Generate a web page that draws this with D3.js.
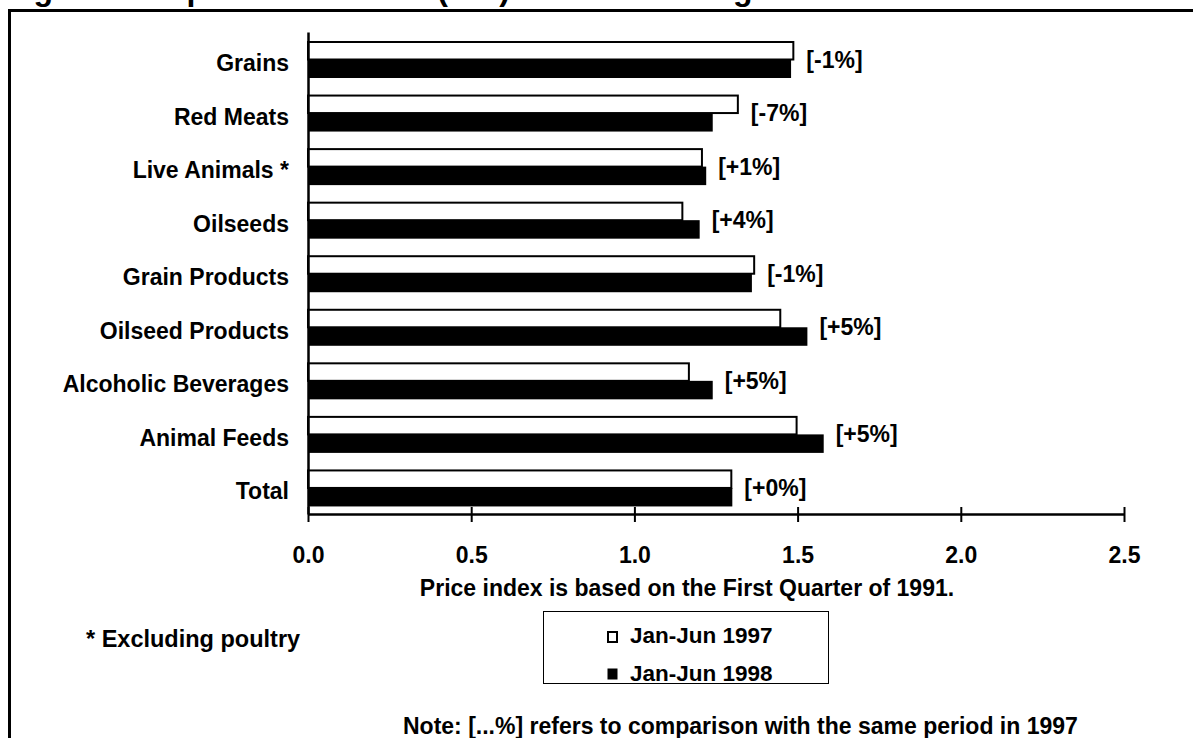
<!DOCTYPE html>
<html>
<head>
<meta charset="utf-8">
<script src="https://cdn.jsdelivr.net/npm/d3@7/dist/d3.min.js"></script>
<style>
  html, body { margin: 0; padding: 0; background: #fff; }
  svg { display: block; }
  text { font-family: "Liberation Sans", Arial, sans-serif; font-weight: bold; fill: #000; }
</style>
</head>
<body>
<svg id="chart" width="1193" height="738"></svg>
<script>
const titleText = "Figure 3. Export Price Index (EPI) for Selected Agricultural Products";
const categories = ["Grains", "Red Meats", "Live Animals *", "Oilseeds", "Grain Products",
  "Oilseed Products", "Alcoholic Beverages", "Animal Feeds", "Total"];
const values1997 = [1.49, 1.32, 1.21, 1.15, 1.37, 1.45, 1.17, 1.50, 1.30];
const values1998 = [1.48, 1.24, 1.22, 1.20, 1.36, 1.53, 1.24, 1.58, 1.30];
const changeLabels = ["[-1%]", "[-7%]", "[+1%]", "[+4%]", "[-1%]", "[+5%]", "[+5%]", "[+5%]", "[+0%]"];
const xTicks = [0, 0.5, 1.0, 1.5, 2.0, 2.5];
const seriesNames = ["Jan-Jun 1997", "Jan-Jun 1998"];
const axisTitle = "Price index is based on the First Quarter of 1991.";
const footnote = "* Excluding poultry";
const noteText = "Note: [...%] refers to comparison with the same period in 1997";

const svg = d3.select("#chart");

// title (cut off at top in the original) and frame
svg.append("text").attr("x", 5).attr("y", -0.5).style("font-size", "32px").text(titleText);
svg.append("rect").attr("x", 9.5).attr("y", 10.5).attr("width", 1400).attr("height", 1000)
  .attr("fill", "none").attr("stroke", "#000").attr("stroke-width", 3);

const x = d3.scaleLinear().domain([0, 2.5]).range([308, 1124]);
const y = d3.scaleBand().domain(categories).range([32, 514]);
const bw = y.bandwidth();
const sub = d3.scaleBand().domain(seriesNames).range([0.168 * bw, 0.859 * bw]);

const data = categories.map((c, i) => ({ c, v97: values1997[i], v98: values1998[i], lab: changeLabels[i] }));

const g = svg.append("g");
g.selectAll("rect.b97").data(data).join("rect").attr("class", "b97")
  .attr("x", x(0))
  .attr("y", d => y(d.c) + sub(seriesNames[0]) + 1)
  .attr("width", d => x(d.v97) - x(0) - 1)
  .attr("height", sub.bandwidth() - 1)
  .attr("fill", "#fff").attr("stroke", "#000").attr("stroke-width", 2);
g.selectAll("rect.b98").data(data).join("rect").attr("class", "b98")
  .attr("x", x(0))
  .attr("y", d => y(d.c) + sub(seriesNames[1]))
  .attr("width", d => x(d.v98) - x(0))
  .attr("height", sub.bandwidth())
  .attr("fill", "#000");

g.selectAll("text.chg").data(data).join("text").attr("class", "chg")
  .attr("x", d => x(Math.max(d.v97, d.v98)) + 12)
  .attr("y", d => y(d.c) + sub(seriesNames[1]) + 8)
  .style("font-size", "23px")
  .text(d => d.lab);

const xAxis = svg.append("g").attr("transform", "translate(0,514)")
  .call(d3.axisBottom(x).tickValues(xTicks).tickFormat(d3.format(".1f")).tickSizeOuter(0));
xAxis.select(".domain").attr("stroke", "#000").attr("stroke-width", 2.5);
xAxis.selectAll(".tick line").attr("y1", -7).attr("y2", 8).attr("stroke", "#000").attr("stroke-width", 2);
xAxis.selectAll(".tick text").attr("y", 49).attr("dy", null)
  .style("font-size", "23px").style("font-family", "'Liberation Sans', Arial, sans-serif").style("font-weight", "bold").attr("fill", "#000");

const yAxis = svg.append("g").attr("transform", "translate(308,0)")
  .call(d3.axisLeft(y).tickSize(0).tickSizeOuter(0).tickPadding(19));
yAxis.select(".domain").attr("stroke", "#000").attr("stroke-width", 2.5);
yAxis.selectAll(".tick text").attr("dy", null).attr("y", sub(seriesNames[1]) - bw / 2 + 11.5)
  .style("font-size", "23px").style("font-family", "'Liberation Sans', Arial, sans-serif").style("font-weight", "bold").attr("fill", "#000");

svg.append("text").attr("x", 687).attr("y", 596).attr("text-anchor", "middle")
  .style("font-size", "23px").text(axisTitle);
svg.append("text").attr("x", 86).attr("y", 647).style("font-size", "23.5px").text(footnote);

const lg = svg.append("g");
lg.append("rect").attr("x", 543.5).attr("y", 611.5).attr("width", 285).attr("height", 72)
  .attr("fill", "#fff").attr("stroke", "#000").attr("stroke-width", 1);
const legendRows = seriesNames.map((s, i) => ({ s, i }));
lg.selectAll("rect.sw").data(legendRows).join("rect").attr("class", "sw")
  .attr("x", 608).attr("y", d => 632 + d.i * 37)
  .attr("width", 9).attr("height", 10)
  .attr("fill", d => d.i === 0 ? "#fff" : "#000")
  .attr("stroke", "#000").attr("stroke-width", d => d.i === 0 ? 2 : 1);
lg.selectAll("text.lt").data(legendRows).join("text").attr("class", "lt")
  .attr("x", 630).attr("y", d => 643 + d.i * 38)
  .style("font-size", "22.5px").text(d => d.s);

svg.append("text").attr("x", 403).attr("y", 734).style("font-size", "23px").text(noteText);
</script>
</body>
</html>
